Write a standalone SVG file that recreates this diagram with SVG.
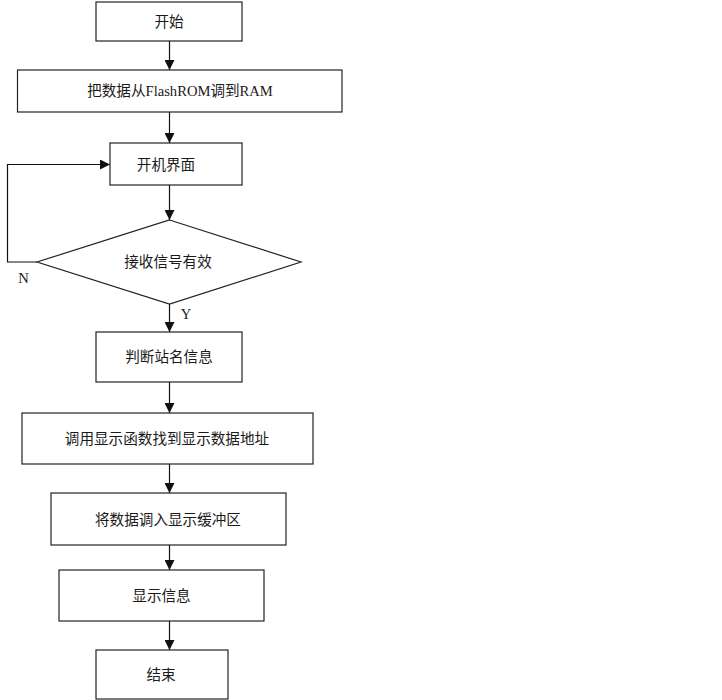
<svg xmlns="http://www.w3.org/2000/svg" width="722" height="700" viewBox="0 0 722 700">
<style>
.box{fill:#fff;stroke:#222;stroke-width:1.2}
.t{font-family:"Liberation Serif","Noto Sans CJK SC",serif;font-size:14.6px;fill:#1a1a1a;text-anchor:middle;dominant-baseline:central}
.c{fill:none;stroke:#111;stroke-width:1.2}
</style>
<defs>
<marker id="ah" viewBox="0 0 10 10" refX="10" refY="5" markerWidth="10" markerHeight="10" markerUnits="userSpaceOnUse" orient="auto">
<path d="M0,0 L10,5 L0,10 Z" fill="#111"/>
</marker>
</defs>
<rect width="722" height="700" fill="#fff"/>
<g id="connectors">
<line class="c" x1="169.5" y1="41" x2="169.5" y2="70" marker-end="url(#ah)"/>
<line class="c" x1="169.5" y1="112" x2="169.5" y2="143" marker-end="url(#ah)"/>
<line class="c" x1="169.5" y1="185" x2="169.5" y2="220" marker-end="url(#ah)"/>
<polyline class="c" points="37,262 7.5,262 7.5,164.5 110,164.5" marker-end="url(#ah)"/>
<line class="c" x1="169.5" y1="304" x2="169.5" y2="332" marker-end="url(#ah)"/>
<line class="c" x1="169.5" y1="382" x2="169.5" y2="413" marker-end="url(#ah)"/>
<line class="c" x1="169.5" y1="464" x2="169.5" y2="493" marker-end="url(#ah)"/>
<line class="c" x1="169.5" y1="545" x2="169.5" y2="570" marker-end="url(#ah)"/>
<line class="c" x1="169.5" y1="621" x2="169.5" y2="650" marker-end="url(#ah)"/>
<text class="t" x="23.5" y="278">N</text>
<text class="t" x="186" y="314">Y</text>
</g>
<g id="start"><rect class="box" x="96" y="2" width="146" height="39"/><text class="t" x="169" y="21.5">开始</text></g>
<g id="load"><rect class="box" x="17.5" y="70" width="324.5" height="42"/><text class="t" x="180" y="91">把数据从FlashROM调到RAM</text></g>
<g id="boot"><rect class="box" x="110" y="143" width="132" height="42"/><text class="t" x="166" y="164.5">开机界面</text></g>
<g id="decision"><polygon class="box" points="169.5,220 301,262 169.5,304 37,262"/><text class="t" x="168" y="262">接收信号有效</text></g>
<g id="judge"><rect class="box" x="96" y="332" width="146" height="50"/><text class="t" x="169" y="357">判断站名信息</text></g>
<g id="call"><rect class="box" x="22" y="413" width="291" height="51"/><text class="t" x="167" y="438.5">调用显示函数找到显示数据地址</text></g>
<g id="buffer"><rect class="box" x="51" y="493" width="235" height="52"/><text class="t" x="168" y="519.5">将数据调入显示缓冲区</text></g>
<g id="show"><rect class="box" x="59" y="570" width="205" height="51"/><text class="t" x="161.5" y="596">显示信息</text></g>
<g id="end"><rect class="box" x="96" y="650" width="132" height="49"/><text class="t" x="161" y="675">结束</text></g>
</svg>
